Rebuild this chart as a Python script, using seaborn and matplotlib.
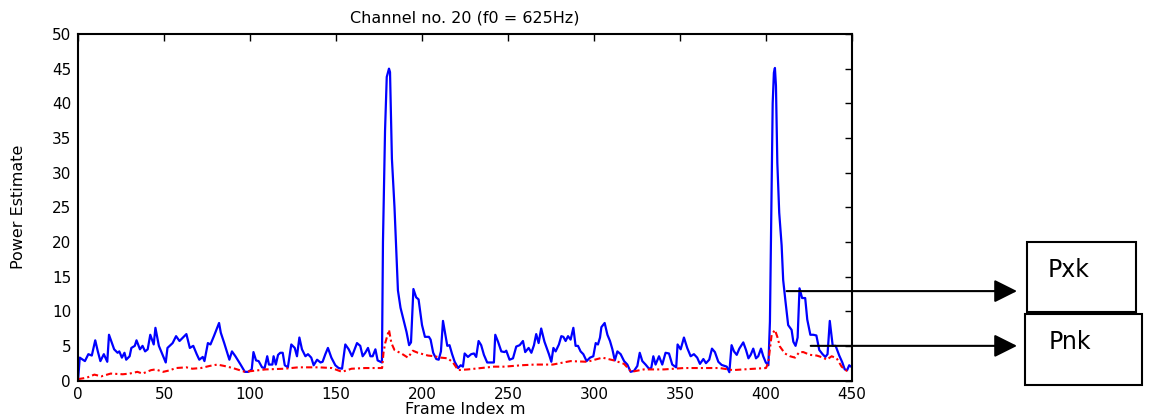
import matplotlib
matplotlib.use('Agg')
import matplotlib.pyplot as plt
import pandas as pd
import seaborn as sns
from matplotlib.patches import Rectangle

# Pxk (blue, solid): frame index -> power
pxk_frames = [0, 1, 4, 6, 8, 10, 11.5, 13, 15, 17, 18, 21, 23, 24, 25.5, 27, 28, 30, 31, 33, 34, 36, 37.5, 39, 40.5,
              42, 44, 45, 47, 49, 51, 52, 55, 57, 59, 61, 63, 65, 67, 69, 70.5, 72.5, 73.5, 75.5, 77, 79, 82, 83, 85,
              87, 88, 89.5, 91.5, 94.5, 97, 99, 101, 102, 103.5, 105, 107, 108.5, 110, 111, 113, 113.7, 115, 116.3,
              117.6, 119, 120.2, 122, 124, 126, 127.3, 128.7, 130.2, 132.2, 133.7, 135.6, 137, 139, 141, 142.2,
              143.8, 145.3, 147.3, 149.6, 151.5, 153.5, 155.4, 157.4, 159.3, 162.2, 164.1, 165.5, 167, 168.6, 170,
              171.3, 172.9, 174.2, 176.7, 177.3, 178.5, 179.5, 180.8, 181.4, 182.5, 184, 185, 186, 187.5, 189.5,
              191, 192.5, 193.6, 195, 196.6, 198, 200, 201.7, 204, 205, 206.5, 208.3, 209.7, 211, 212.2, 213.6,
              214.7, 216, 217.5, 219, 221, 222.5, 223.8, 224.8, 226.7, 228.6, 230.2, 231.5, 232.9, 234.4, 236,
              237.9, 240.2, 241.8, 242.6, 244.2, 246.1, 248, 249, 250.9, 252.9, 254.8, 256.8, 258.7, 260, 262,
              263.6, 265.1, 266.4, 267.8, 269.3, 271.2, 272.5, 273.8, 275.2, 276.4, 277.7, 279.6, 281, 282.2,
              283.5, 284.9, 286.4, 288, 289.3, 290.7, 292.2, 293.8, 295.7, 297.7, 299.6, 301, 302.3, 303.5, 304.3,
              306.2, 307.8, 309.3, 310.7, 312.1, 313.6, 315.5, 317.5, 319.4, 321.3, 323.3, 325.2, 326.6, 328.1,
              330, 332, 333.3, 334.5, 335.8, 337.8, 339.7, 341.6, 343.6, 345.5, 347.8, 348.6, 350.4, 352.3, 354.2,
              356.2, 358.1, 360, 361.6, 363.6, 365.1, 367, 368.6, 370.3, 372.3, 374.2, 377.2, 378.7, 380, 381.4,
              383, 384.5, 386.8, 388.4, 389.8, 391.1, 392.6, 394.2, 395.5, 397.1, 398.4, 399.9, 401.4, 402.3,
              403.3, 403.9, 404.6, 405.2, 405.8, 406.6, 407.7, 409.1, 410, 411.3, 412.9, 414.9, 415.9, 417.2,
              418.4, 419.5, 421, 422.8, 424, 425.8, 427.5, 429.3, 431, 432.9, 434.5, 435.8, 437.1, 438.8, 440.5,
              442.6, 444.4, 445.8, 447.2, 448.4, 449.4]
pxk_values = [0, 3.3, 2.8, 3.8, 3.6, 5.8, 4.2, 2.8, 3.8, 2.7, 6.6, 4.5, 4.0, 4.2, 3.3, 4.0, 3.0, 3.5, 4.7, 5.0, 5.8,
              4.5, 5.0, 4.2, 4.5, 6.6, 5.2, 7.6, 5.0, 3.8, 2.6, 4.7, 5.4, 6.4, 5.7, 6.2, 6.7, 4.7, 5.0, 3.8, 3.0,
              3.4, 2.8, 5.4, 5.2, 6.4, 8.3, 6.9, 5.4, 3.8, 3.0, 4.2, 3.5, 2.3, 1.25, 1.25, 1.6, 4.1, 2.9, 2.8, 1.9,
              1.8, 3.5, 2.3, 2.3, 3.5, 2.3, 3.7, 4.0, 4.0, 2.2, 1.9, 5.2, 4.7, 3.5, 6.2, 4.5, 3.5, 3.8, 3.3, 2.2,
              3.0, 2.6, 2.7, 3.8, 4.7, 3.3, 2.2, 1.8, 1.7, 5.2, 4.5, 3.5, 5.4, 5.0, 3.5, 4.0, 4.7, 3.5, 3.5, 4.5,
              2.9, 2.6, 20, 36, 43.8, 45.0, 44.5, 32, 25, 19, 13, 10.5, 8.5, 7.0, 5.1, 5.5, 13.2, 12.0, 11.7, 8.0,
              6.3, 6.3, 5.9, 4.0, 3.1, 3.0, 4.2, 8.6, 6.6, 5.0, 5.1, 3.8, 2.7, 1.8, 2.2, 2.0, 3.9, 3.4, 3.8, 3.9,
              3.4, 5.7, 5.1, 3.7, 2.6, 2.6, 2.6, 6.6, 5.6, 4.2, 4.1, 4.3, 3.0, 3.2, 4.9, 5.1, 5.7, 4.1, 4.7, 4.0,
              5.1, 6.7, 5.4, 7.5, 5.6, 4.7, 3.8, 2.7, 4.7, 4.2, 5.2, 6.4, 6.3, 5.7, 6.4, 5.9, 7.6, 5.0, 5.0, 4.2,
              3.8, 2.8, 3.3, 3.5, 5.4, 5.2, 6.2, 7.7, 8.3, 6.6, 5.7, 4.5, 2.9, 4.2, 3.8, 2.8, 2.3, 1.25, 1.4, 2.1,
              4.0, 2.8, 2.3, 1.7, 1.8, 3.5, 2.3, 3.5, 2.3, 4.0, 3.9, 2.3, 1.9, 5.2, 4.5, 6.2, 4.7, 3.5, 3.8, 3.3,
              2.4, 3.1, 2.5, 3.0, 4.6, 4.1, 2.7, 2.25, 2.0, 1.2, 5.1, 4.2, 3.7, 4.6, 5.5, 4.4, 3.2, 3.7, 4.6, 3.2,
              3.5, 4.6, 3.5, 2.6, 2.2, 8.5, 28, 40, 44.4, 45.1, 42.5, 31.4, 24.2, 19.5, 14.5, 11.5, 8.0, 7.3, 5.6,
              5.0, 6.2, 13.3, 11.9, 11.9, 8.8, 6.6, 6.6, 6.5, 4.4, 3.8, 3.4, 3.8, 8.6, 5.0, 5.0, 3.6, 2.6, 1.6,
              1.5, 2.2, 2.0]

# Pnk (red, dash-dot)
pnk_frames = [0, 5, 9.5, 13.5, 19, 26, 30, 34.5, 37.5, 42.5, 45, 49.5, 53, 57, 63, 66.5, 71.5, 76.5, 81, 85, 90,
              97, 109, 120, 128, 140, 147.5, 153.5, 159, 167, 176.8, 177.6, 178.6, 180.8, 182.2, 184, 188, 191.8,
              194.7, 197.6, 203.5, 207.3, 211, 215, 218, 221, 226.7, 234.4, 242, 248, 257.8, 265.5, 272.8, 276,
              286.4, 296, 304.9, 311.6, 317.5, 321.7, 329, 340.7, 352.3, 362.9, 373, 380.6, 390, 400, 401.3, 403.3,
              405.2, 406.6, 408.1, 411, 414, 416.9, 419.4, 421.7, 425.6, 429.5, 433.3, 435.3, 438.2, 441.1, 444,
              446.9, 449]
pnk_values = [0.2, 0.4, 0.85, 0.6, 1.0, 0.9, 1.0, 1.25, 1.0, 1.5, 1.6, 1.25, 1.45, 1.8, 1.9, 1.7, 1.8, 2.1, 2.3,
              2.1, 1.8, 1.25, 1.6, 1.7, 1.9, 1.9, 1.8, 1.25, 1.7, 1.8, 1.8, 4.0, 5.4, 7.3, 5.4, 4.4, 3.9, 3.3, 4.3,
              4.0, 3.6, 3.5, 3.3, 3.2, 2.6, 1.5, 1.6, 1.8, 2.0, 2.0, 2.2, 2.3, 2.3, 2.3, 2.8, 2.7, 3.3, 2.9, 2.4,
              1.25, 1.6, 1.6, 1.8, 1.8, 1.8, 1.5, 1.65, 1.8, 2.5, 6.6, 7.3, 6.3, 4.9, 3.9, 3.5, 3.3, 4.1, 4.1, 3.7,
              3.6, 3.3, 3.0, 3.5, 3.2, 2.0, 1.4, 1.5]

x_ticks = list(range(0, 451, 50))
y_ticks = list(range(0, 51, 5))

sns.set_style('white', rc={'xtick.direction': 'in', 'ytick.direction': 'in',
                           'axes.edgecolor': 'black', 'xtick.color': 'black', 'ytick.color': 'black',
                           'text.color': 'black', 'axes.labelcolor': 'black'})
plt.rcParams['font.family'] = ['DejaVu Sans']

df_x = pd.DataFrame({'frame': pxk_frames, 'power': pxk_values})
df_n = pd.DataFrame({'frame': pnk_frames, 'power': pnk_values})

fig = plt.figure(figsize=(11.51, 4.18), dpi=100)
ax = fig.add_subplot(1, 1, 1)
fig.subplots_adjust(left=0.0678, right=0.7402, bottom=0.0897, top=0.9187)

sns.lineplot(data=df_x, x='frame', y='power', ax=ax, color='#0000FF', linewidth=1.6,
             estimator=None, sort=False)
sns.lineplot(data=df_n, x='frame', y='power', ax=ax, color='#FF0000', linewidth=1.5,
             linestyle=(0, (3, 1.5, 1, 1.5)), estimator=None, sort=False)

ax.set_xlim(0, 450)
ax.set_ylim(0, 50)
ax.set_xticks(x_ticks)
ax.set_yticks(y_ticks)
ax.tick_params(top=True, right=True, length=5, width=1, labelsize=11, pad=5)
for s in ax.spines.values():
    s.set_visible(True)
    s.set_linewidth(1.5)
    s.set_color('black')

ax.set_title('Channel no. 20 (f0 = 625Hz)', fontsize=11.5, pad=8)
ax.set_xlabel('Frame Index m', fontsize=11.5)
ax.set_ylabel('Power Estimate', fontsize=11.5)
ax.xaxis.set_label_coords(0.5, -0.062)
ax.yaxis.set_label_coords(-0.067, 0.5)

# boxes with the series names, right of the axes
fig.add_artist(Rectangle((0.8923, 0.2536), 0.0947, 0.1675, transform=fig.transFigure,
                         fill=False, lw=1.5, ec='black'))
fig.add_artist(Rectangle((0.8905, 0.0789), 0.1017, 0.1699, transform=fig.transFigure,
                         fill=False, lw=1.5, ec='black'))
fig.text(0.9105, 0.3373, 'Pxk', fontsize=17, ha='left', va='baseline')
fig.text(0.9114, 0.1651, 'Pnk', fontsize=17, ha='left', va='baseline')

arrow = dict(arrowstyle='-|>,head_length=1.0,head_width=0.5', mutation_scale=14,
             color='black', lw=1.5, shrinkA=0, shrinkB=0)
ax.annotate('', xy=(0.8836, 12.9), xycoords=('figure fraction', 'data'),
            xytext=(412, 12.9), textcoords='data', arrowprops=arrow, annotation_clip=False)
ax.annotate('', xy=(0.8836, 5.0), xycoords=('figure fraction', 'data'),
            xytext=(426, 5.0), textcoords='data', arrowprops=arrow, annotation_clip=False)

fig.savefig('out.png', dpi=100)
